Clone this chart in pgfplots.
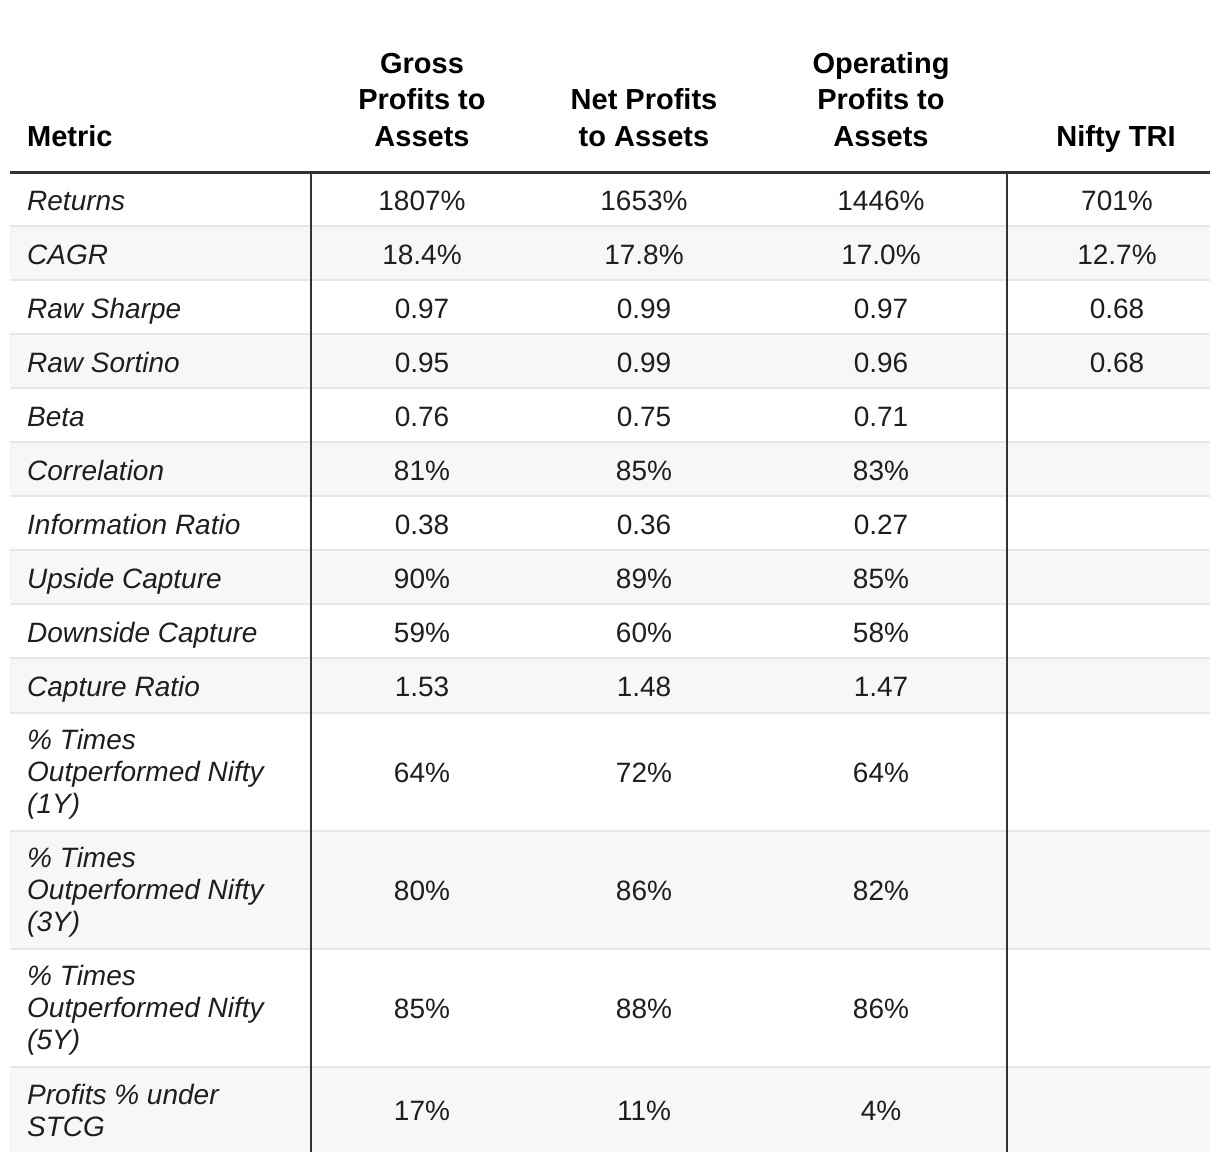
\documentclass[border=0pt]{standalone}
\usepackage{pgfplots}
\pgfplotsset{compat=1.18}
\usepackage{pgfplotstable}
\usepackage{fontspec}
\setmainfont{Liberation Sans}
\definecolor{rowgray}{HTML}{F7F7F7}
\definecolor{sepgray}{HTML}{E6E6E6}
\definecolor{darkline}{HTML}{333333}
\definecolor{txt}{HTML}{1E1E1E}
\newcommand{\hfont}{\fontsize{29bp}{36bp}\selectfont\bfseries}
\newcommand{\vfont}{\fontsize{28bp}{32bp}\selectfont}
\newcommand{\mfont}{\fontsize{28bp}{32bp}\selectfont\itshape}

\pgfplotstableread{
y g n o
210 1807\% 1653\% 1446\%
264 18.4\% 17.8\% 17.0\%
318 0.97 0.99 0.97
372 0.95 0.99 0.96
426 0.76 0.75 0.71
480 81\% 85\% 83\%
534 0.38 0.36 0.27
588 90\% 89\% 85\%
642 59\% 60\% 58\%
696 1.53 1.48 1.47
782 64\% 72\% 64\%
900 80\% 86\% 82\%
1018 85\% 88\% 86\%
1120 17\% 11\% 4\%
}\maintab

\pgfplotstableread{
y t
210 701\%
264 12.7\%
318 0.68
372 0.68
}\niftytab

\begin{document}
\begin{tikzpicture}
\begin{axis}[
  width=1220bp, height=1162bp, scale only axis,
  xmin=0, xmax=1220, ymin=0, ymax=1162, y dir=reverse,
  hide axis, clip=false,
  nodes near coords style={anchor=base, inner sep=0pt, font=\vfont, text=txt},
]
% bounding box
\path (axis cs:0,0) rectangle (axis cs:1220,1162);
% row shading
\fill[rowgray] (axis cs:10,226) rectangle (axis cs:1210,280);
\fill[rowgray] (axis cs:10,334) rectangle (axis cs:1210,388);
\fill[rowgray] (axis cs:10,442) rectangle (axis cs:1210,496);
\fill[rowgray] (axis cs:10,550) rectangle (axis cs:1210,604);
\fill[rowgray] (axis cs:10,658) rectangle (axis cs:1210,713);
\fill[rowgray] (axis cs:10,831) rectangle (axis cs:1210,949);
\fill[rowgray] (axis cs:10,1067) rectangle (axis cs:1210,1152);
% row separators
\pgfplotsinvokeforeach{226,280,334,388,442,496,550,604,658,713,831,949,1067}{
  \draw[sepgray, line width=2bp] (axis cs:10,#1) -- (axis cs:1210,#1);
}
% vertical lines
\draw[darkline, line width=2bp] (axis cs:311,172) -- (axis cs:311,1152);
\draw[darkline, line width=2bp] (axis cs:1007,172) -- (axis cs:1007,1152);
% header line
\draw[darkline, line width=3bp] (axis cs:10,172) -- (axis cs:1210,172);

% headers
\node[anchor=base west, inner sep=0pt, font=\hfont] at (axis cs:27,146) {Metric};
\node[anchor=base, inner sep=0pt, font=\hfont] at (axis cs:422,73) {Gross};
\node[anchor=base, inner sep=0pt, font=\hfont] at (axis cs:422,109) {Profits to};
\node[anchor=base, inner sep=0pt, font=\hfont] at (axis cs:422,146) {Assets};
\node[anchor=base, inner sep=0pt, font=\hfont] at (axis cs:644,109) {Net Profits};
\node[anchor=base, inner sep=0pt, font=\hfont] at (axis cs:644,146) {to Assets};
\node[anchor=base, inner sep=0pt, font=\hfont] at (axis cs:881,73) {Operating};
\node[anchor=base, inner sep=0pt, font=\hfont] at (axis cs:881,109) {Profits to};
\node[anchor=base, inner sep=0pt, font=\hfont] at (axis cs:881,146) {Assets};
\node[anchor=base, inner sep=0pt, font=\hfont] at (axis cs:1116,146) {Nifty TRI};

% metric names
\begin{scope}[every node/.style={anchor=base west, inner sep=0pt, font=\mfont, text=txt}]
\node at (axis cs:27,210) {Returns};
\node at (axis cs:27,264) {CAGR};
\node at (axis cs:27,318) {Raw Sharpe};
\node at (axis cs:27,372) {Raw Sortino};
\node at (axis cs:27,426) {Beta};
\node at (axis cs:27,480) {Correlation};
\node at (axis cs:27,534) {Information Ratio};
\node at (axis cs:27,588) {Upside Capture};
\node at (axis cs:27,642) {Downside Capture};
\node at (axis cs:27,696) {Capture Ratio};
\node at (axis cs:27,749) {\% Times};
\node at (axis cs:27,781) {Outperformed Nifty};
\node at (axis cs:27,813) {(1Y)};
\node at (axis cs:27,867) {\% Times};
\node at (axis cs:27,899) {Outperformed Nifty};
\node at (axis cs:27,931) {(3Y)};
\node at (axis cs:27,985) {\% Times};
\node at (axis cs:27,1017) {Outperformed Nifty};
\node at (axis cs:27,1049) {(5Y)};
\node at (axis cs:27,1104) {Profits \% under};
\node at (axis cs:27,1136) {STCG};
\end{scope}

% values
\addplot[only marks, mark=none, nodes near coords, point meta=explicit symbolic]
  table[x expr=422, y=y, meta=g] {\maintab};
\addplot[only marks, mark=none, nodes near coords, point meta=explicit symbolic]
  table[x expr=644, y=y, meta=n] {\maintab};
\addplot[only marks, mark=none, nodes near coords, point meta=explicit symbolic]
  table[x expr=881, y=y, meta=o] {\maintab};
\addplot[only marks, mark=none, nodes near coords, point meta=explicit symbolic]
  table[x expr=1117, y=y, meta=t] {\niftytab};
\end{axis}
\end{tikzpicture}
\end{document}
